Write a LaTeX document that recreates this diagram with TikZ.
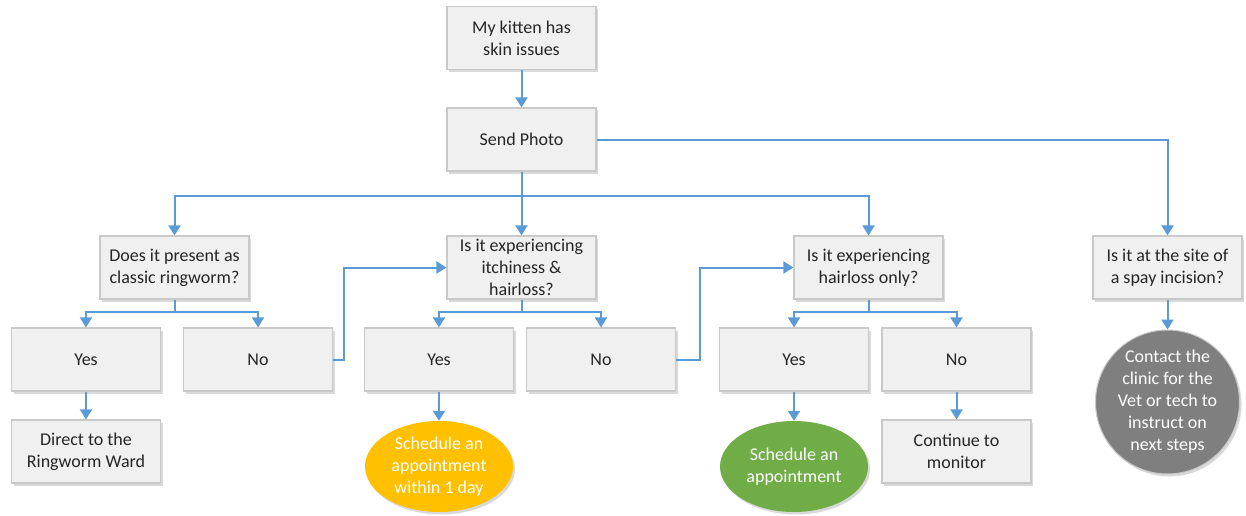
\documentclass[tikz,border=0pt]{standalone}
\usepackage{fontspec}
\setmainfont{Carlito}
\usetikzlibrary{arrows.meta,shapes.geometric,shadows,calc}
\definecolor{boxfill}{HTML}{F0F0F0}
\definecolor{boxline}{HTML}{C9C9C9}
\definecolor{arrowblue}{HTML}{5B9BD5}
\definecolor{orangefill}{HTML}{FFC000}
\definecolor{greenfill}{HTML}{70AD47}
\definecolor{grayfill}{HTML}{7F7F7F}
\begin{document}
\begin{tikzpicture}[x=1pt,y=-1pt,
  every node/.style={font=\fontsize{18}{22}\selectfont, text=black!85},
  shade/.style={drop shadow={shadow xshift=2pt, shadow yshift=-2.5pt, opacity=0.25, fill=black!60}},
  box/.style={draw=boxline, line width=1.2pt, fill=boxfill, minimum width=149pt, minimum height=63pt, align=center, inner sep=2pt, shade},
  oval/.style={ellipse, draw=none, minimum width=148pt, minimum height=91pt, align=center, inner sep=0pt, text=white, shade},
  roundnode/.style={circle, draw=boxline, line width=1pt, minimum size=144pt, align=center, inner sep=0pt, text=white, fill=grayfill, shade},
  arr/.style={draw=arrowblue, line width=2pt, -{Triangle[width=12pt,length=10pt]}},
  ln/.style={draw=arrowblue, line width=2pt}
]
\useasboundingbox (0,0) rectangle (1246,516);

\node[box] (kitten) at (521.5,38) {My kitten has\\skin issues};
\node[box] (send) at (521.5,139.5) {Send Photo};

\node[box] (q1) at (174.5,267.5) {Does it present as\\classic ringworm?};
\node[box] (q2) at (521.5,267.5) {Is it experiencing\\itchiness \&\\hairloss?};
\node[box] (q3) at (868.5,267.5) {Is it experiencing\\hairloss only?};
\node[box] (q4) at (1167.5,267.5) {Is it at the site of\\a spay incision?};

\node[box] (yes1) at (86,359.5) {Yes};
\node[box] (no1) at (258,359.5) {No};
\node[box] (yes2) at (439,359.5) {Yes};
\node[box] (no2) at (601,359.5) {No};
\node[box] (yes3) at (794,359.5) {Yes};
\node[box] (no3) at (956.5,359.5) {No};

\node[box] (ward) at (86,451.5) {Direct to the\\Ringworm Ward};
\node[oval, fill=orangefill] (sched1) at (439,466.5) {Schedule an\\appointment\\within 1 day};
\node[oval, fill=greenfill] (sched2) at (794,466.5) {Schedule an\\appointment};
\node[box] (monitor) at (956.5,451.5) {Continue to\\monitor};
\node[roundnode] (contact) at (1167.5,402) {Contact the\\clinic for the\\Vet or tech to\\instruct on\\next steps};

\coordinate (bus) at (521.5,196);
\coordinate (b1) at (174.5,312);
\coordinate (b2) at (521.5,312);
\coordinate (b3) at (868.5,312);
\coordinate (j1) at (344,267.5);
\coordinate (j2) at (700,267.5);

\draw[arr] (kitten) -- (send);
\draw[ln] (send.south) -- (bus);
\draw[arr] (bus) -| (q1.north);
\draw[arr] (bus) -- (q2.north);
\draw[arr] (bus) -| (q3.north);
\draw[arr] (send.east) -| (q4.north);

\draw[ln] (q1.south) -- (b1);
\draw[arr] (b1) -| (yes1.north);
\draw[arr] (b1) -| (no1.north);
\draw[ln] (q2.south) -- (b2);
\draw[arr] (b2) -| (yes2.north);
\draw[arr] (b2) -| (no2.north);
\draw[ln] (q3.south) -- (b3);
\draw[arr] (b3) -| (yes3.north);
\draw[arr] (b3) -| (no3.north);

\draw[arr] (no1.east) -| (j1) -- (q2.west);
\draw[arr] (no2.east) -| (j2) -- (q3.west);

\draw[arr] (yes1) -- (ward);
\draw[arr] (yes2) -- (sched1);
\draw[arr] (yes3) -- (sched2);
\draw[arr] (no3) -- (monitor);
\draw[arr] (q4) -- (contact);
\end{tikzpicture}
\end{document}
